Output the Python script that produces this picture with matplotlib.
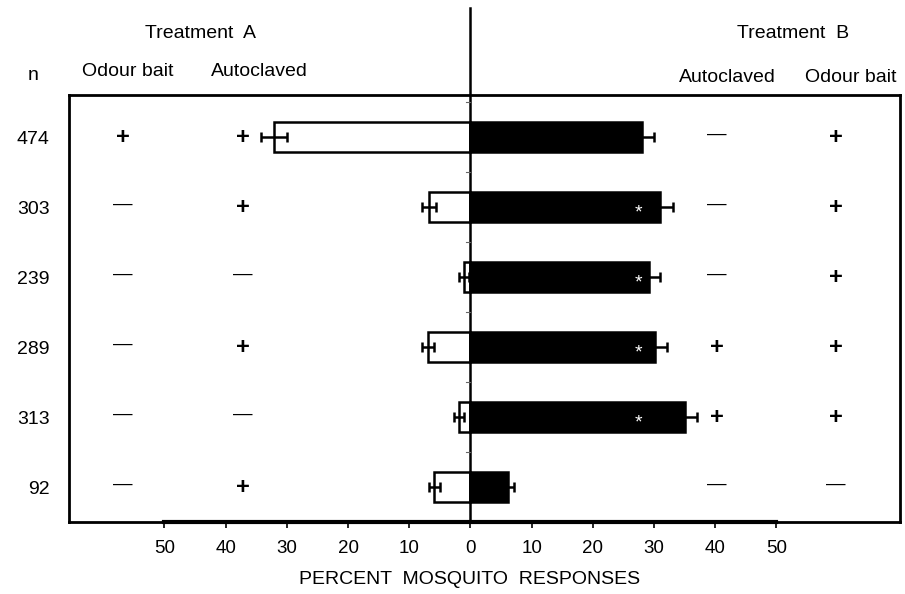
import numpy as np
import matplotlib
matplotlib.use('Agg')
from matplotlib import pyplot as plt

plt.rcParams['font.family'] = ['Liberation Sans', 'DejaVu Sans']

# sample sizes per row, top to bottom
n_labels = ['474', '303', '239', '289', '313', '92']

# percent responses, treatment A (plotted to the left) and B (to the right)
resp_a = [32.1, 6.8, 1.0, 6.9, 1.9, 5.9]
err_a = [2.1, 1.1, 0.8, 1.0, 0.8, 0.9]
resp_b = [28.1, 31.0, 29.1, 30.2, 35.1, 6.1]
err_b = [1.9, 2.1, 1.9, 1.9, 1.9, 1.0]
signif = [False, True, True, True, True, False]

# +/- tables for the treatments
a_bait = ['+', '-', '-', '-', '-', '-']
a_auto = ['+', '+', '-', '+', '-', '+']
b_auto = ['-', '-', '-', '+', '+', '-']
b_bait = ['+', '+', '+', '+', '+', '-']

ticks = [-50, -40, -30, -20, -10, 0, 10, 20, 30, 40, 50]

fig = plt.figure(figsize=(9.05, 5.94), dpi=100)
ax = fig.add_axes([0.0762, 0.1212, 0.9183, 0.7188])

y = np.arange(len(n_labels))
left = -np.array(resp_a)

ax.barh(y, left, height=0.42, color='white', edgecolor='black', linewidth=1.8, zorder=2)
ax.barh(y, resp_b, height=0.42, color='black', edgecolor='black', linewidth=1.8, zorder=2)
ax.errorbar(left, y, xerr=err_a, fmt='none', ecolor='black', elinewidth=1.8,
            capsize=3.5, capthick=1.8, zorder=3)
ax.errorbar(resp_b, y, xerr=err_b, fmt='none', ecolor='black', elinewidth=1.8,
            capsize=3.5, capthick=1.8, zorder=3)

for i in range(len(y)):
    if signif[i]:
        ax.text(27.4, y[i] + 0.08, '*', color='white', fontsize=14,
                ha='center', va='center', zorder=4)

cols = [(-56.8, a_bait), (-37.2, a_auto), (40.3, b_auto), (59.7, b_bait)]
for xc, marks in cols:
    for i, m in enumerate(marks):
        if m == '+':
            ax.text(xc, y[i], '+', fontsize=17, fontweight='bold', ha='center', va='center')
        else:
            ax.text(xc, y[i] - 0.04, '\u2014', fontsize=14, ha='center', va='center')

ax.set_xlim(-65.6, 70.2)
ax.set_ylim(5.5, -0.6)

# centre line, running up above the frame
ax.plot([0, 0], [-1.84, 5.5], color='black', lw=1.8, clip_on=False, zorder=5)
for yy in [-0.5, 0.5, 1.5, 2.5, 3.5, 4.5]:
    ax.plot([-0.8, 0], [yy, yy], color='0.4', lw=0.8, zorder=5)

# heavier scale segment along the bottom
ax.plot([-50, 50], [5.5, 5.5], color='black', lw=3, clip_on=False, zorder=5)

ax.set_xticks(ticks)
ax.set_xticklabels([str(abs(t)) for t in ticks], fontsize=13.5)
ax.tick_params(axis='x', direction='out', length=4, width=1.2, pad=9)
ax.set_yticks(y)
ax.set_yticklabels(n_labels, fontsize=14)
ax.tick_params(axis='y', length=0, pad=14)
for sp in ax.spines.values():
    sp.set_linewidth(2)

ax.set_xlabel('PERCENT  MOSQUITO  RESPONSES', fontsize=14, labelpad=10)
ax.xaxis.label.set_x(0.4826)

fig.text(200 / 905, 1 - 33 / 594, 'Treatment  A', fontsize=14, ha='center', va='center')
fig.text(793 / 905, 1 - 33 / 594, 'Treatment  B', fontsize=14, ha='center', va='center')
fig.text(33 / 905, 1 - 75 / 594, 'n', fontsize=14, ha='center', va='center')
fig.text(128 / 905, 1 - 71 / 594, 'Odour bait', fontsize=14, ha='center', va='center')
fig.text(259 / 905, 1 - 71 / 594, 'Autoclaved', fontsize=14, ha='center', va='center')
fig.text(727 / 905, 1 - 77 / 594, 'Autoclaved', fontsize=14, ha='center', va='center')
fig.text(851 / 905, 1 - 77 / 594, 'Odour bait', fontsize=14, ha='center', va='center')

fig.savefig('out.png', dpi=100)
